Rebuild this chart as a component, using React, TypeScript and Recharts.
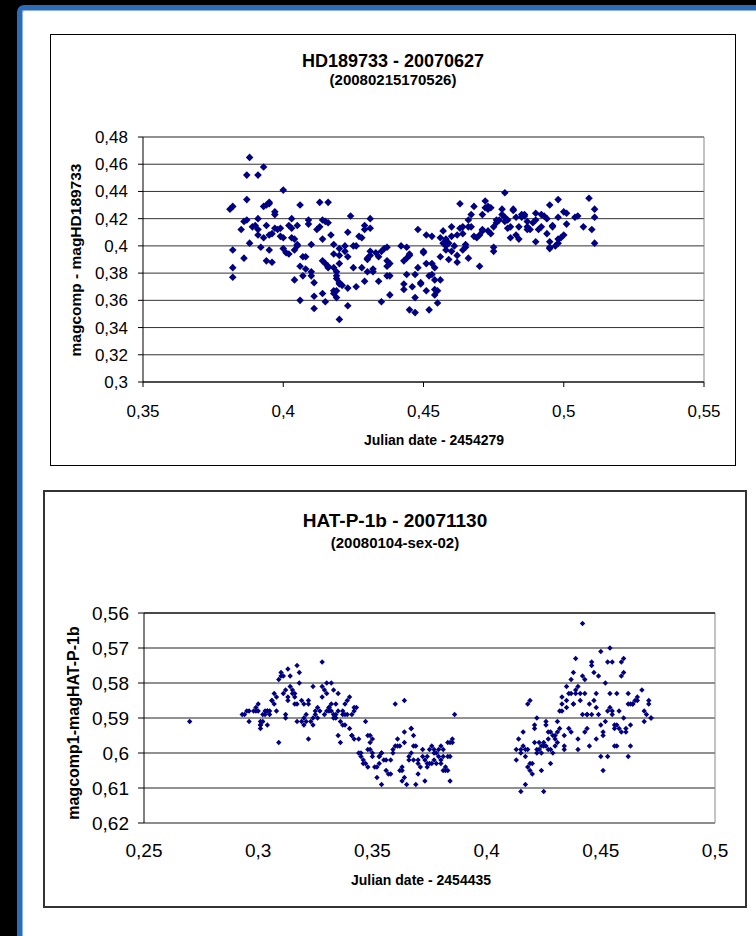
import React from "react";
import { ScatterChart, Scatter, XAxis, YAxis, CartesianGrid, ReferenceLine } from "recharts";

// chart 1: HD189733 light curve
const hdTitle = "HD189733 - 20070627";
const hdSubtitle = "(20080215170526)";
const hdXLabel = "Julian date - 2454279";
const hdYLabel = "magcomp - magHD189733";
const hdXTicks = [0.35, 0.4, 0.45, 0.5, 0.55];
const hdYTicks = [0.3, 0.32, 0.34, 0.36, 0.38, 0.4, 0.42, 0.44, 0.46, 0.48];

// [julian date offset, magnitude difference]
const hdPoints: [number, number][] = [
  [0.381, 0.427], [0.382, 0.429], [0.382, 0.397], [0.382, 0.384], [0.382, 0.377],
  [0.388, 0.465], [0.387, 0.452], [0.391, 0.452], [0.393, 0.458], [0.387, 0.434],
  [0.386, 0.391], [0.385, 0.412], [0.387, 0.419], [0.386, 0.418], [0.388, 0.402],
  [0.389, 0.414], [0.39, 0.415], [0.391, 0.412], [0.391, 0.42], [0.392, 0.399],
  [0.391, 0.408], [0.393, 0.406], [0.394, 0.415], [0.395, 0.397], [0.394, 0.389],
  [0.396, 0.388], [0.393, 0.429], [0.394, 0.43], [0.395, 0.431], [0.395, 0.432],
  [0.397, 0.423], [0.397, 0.425], [0.395, 0.408], [0.396, 0.409], [0.397, 0.413],
  [0.398, 0.412], [0.399, 0.413], [0.399, 0.407], [0.4, 0.406], [0.4, 0.441],
  [0.4, 0.398], [0.401, 0.395], [0.402, 0.394], [0.403, 0.42], [0.402, 0.415],
  [0.403, 0.413], [0.403, 0.406], [0.404, 0.405], [0.404, 0.397], [0.405, 0.4],
  [0.405, 0.415], [0.404, 0.375], [0.406, 0.36], [0.406, 0.43], [0.405, 0.401],
  [0.406, 0.385], [0.407, 0.378], [0.407, 0.392], [0.408, 0.392], [0.409, 0.419],
  [0.409, 0.416], [0.408, 0.383], [0.41, 0.378], [0.41, 0.401], [0.41, 0.381],
  [0.411, 0.373], [0.411, 0.363], [0.411, 0.354], [0.413, 0.432], [0.416, 0.432],
  [0.412, 0.412], [0.413, 0.414], [0.414, 0.405], [0.414, 0.419], [0.415, 0.418],
  [0.416, 0.417], [0.417, 0.408], [0.414, 0.389], [0.415, 0.387], [0.416, 0.385],
  [0.416, 0.384], [0.418, 0.401], [0.418, 0.394], [0.414, 0.365], [0.415, 0.359],
  [0.418, 0.367], [0.418, 0.365], [0.419, 0.367], [0.419, 0.362], [0.418, 0.384],
  [0.419, 0.378], [0.419, 0.376], [0.42, 0.373], [0.42, 0.372], [0.421, 0.371],
  [0.419, 0.381], [0.42, 0.387], [0.42, 0.393], [0.42, 0.398], [0.422, 0.4],
  [0.422, 0.396], [0.423, 0.392], [0.424, 0.422], [0.423, 0.41], [0.423, 0.369],
  [0.423, 0.356], [0.42, 0.346], [0.425, 0.4], [0.425, 0.384], [0.426, 0.37],
  [0.426, 0.4], [0.427, 0.407], [0.428, 0.406], [0.428, 0.384], [0.429, 0.374],
  [0.429, 0.415], [0.429, 0.412], [0.43, 0.381], [0.43, 0.391], [0.43, 0.39],
  [0.431, 0.396], [0.431, 0.393], [0.431, 0.42], [0.432, 0.383], [0.432, 0.381],
  [0.433, 0.395], [0.434, 0.374], [0.434, 0.392], [0.435, 0.359], [0.431, 0.413],
  [0.435, 0.396], [0.436, 0.398], [0.437, 0.389], [0.437, 0.399], [0.437, 0.385],
  [0.438, 0.378], [0.437, 0.378], [0.438, 0.364], [0.438, 0.387], [0.442, 0.4],
  [0.443, 0.368], [0.443, 0.372], [0.443, 0.389], [0.444, 0.391], [0.444, 0.399],
  [0.445, 0.393], [0.445, 0.394], [0.444, 0.379], [0.445, 0.353], [0.447, 0.362],
  [0.446, 0.37], [0.447, 0.351], [0.448, 0.412], [0.447, 0.379], [0.448, 0.384],
  [0.449, 0.373], [0.449, 0.372], [0.45, 0.395], [0.45, 0.396], [0.451, 0.408],
  [0.451, 0.367], [0.451, 0.387], [0.452, 0.378], [0.452, 0.353], [0.453, 0.387],
  [0.453, 0.407], [0.453, 0.379], [0.454, 0.375], [0.454, 0.364], [0.454, 0.384],
  [0.454, 0.368], [0.455, 0.367], [0.455, 0.358], [0.456, 0.406], [0.456, 0.392],
  [0.456, 0.375], [0.457, 0.411], [0.457, 0.402], [0.458, 0.4], [0.458, 0.405],
  [0.458, 0.397], [0.459, 0.39], [0.459, 0.402], [0.46, 0.396], [0.46, 0.407],
  [0.46, 0.414], [0.461, 0.4], [0.462, 0.408], [0.462, 0.393], [0.462, 0.388],
  [0.463, 0.431], [0.463, 0.413], [0.464, 0.409], [0.464, 0.397], [0.464, 0.414],
  [0.465, 0.399], [0.465, 0.401], [0.466, 0.414], [0.466, 0.419], [0.466, 0.391],
  [0.467, 0.423], [0.467, 0.414], [0.468, 0.429], [0.468, 0.407], [0.469, 0.406],
  [0.47, 0.385], [0.47, 0.408], [0.471, 0.412], [0.471, 0.411], [0.471, 0.423],
  [0.472, 0.428], [0.472, 0.433], [0.473, 0.411], [0.473, 0.427], [0.473, 0.429],
  [0.474, 0.428], [0.474, 0.409], [0.475, 0.399], [0.475, 0.396], [0.475, 0.414],
  [0.476, 0.417], [0.476, 0.419], [0.477, 0.419], [0.478, 0.423], [0.478, 0.427],
  [0.479, 0.439], [0.479, 0.421], [0.479, 0.418], [0.48, 0.419], [0.48, 0.413],
  [0.481, 0.406], [0.481, 0.414], [0.482, 0.426], [0.482, 0.427], [0.483, 0.421],
  [0.483, 0.408], [0.484, 0.405], [0.484, 0.414], [0.485, 0.421], [0.485, 0.423],
  [0.486, 0.423], [0.486, 0.422], [0.487, 0.418], [0.487, 0.412], [0.487, 0.414],
  [0.488, 0.412], [0.489, 0.417], [0.49, 0.424], [0.49, 0.403], [0.49, 0.419],
  [0.491, 0.412], [0.492, 0.414], [0.492, 0.423], [0.493, 0.422], [0.494, 0.409],
  [0.494, 0.42], [0.495, 0.403], [0.495, 0.43], [0.495, 0.398], [0.495, 0.399],
  [0.496, 0.414], [0.496, 0.415], [0.497, 0.4], [0.498, 0.402], [0.498, 0.434],
  [0.498, 0.421], [0.498, 0.405], [0.499, 0.406], [0.5, 0.408], [0.5, 0.425],
  [0.501, 0.424], [0.501, 0.416], [0.504, 0.421], [0.505, 0.422], [0.507, 0.414],
  [0.509, 0.435], [0.51, 0.412], [0.511, 0.427], [0.511, 0.421], [0.511, 0.402],
];

// chart 2: HAT-P-1b light curve
const hatTitle = "HAT-P-1b - 20071130";
const hatSubtitle = "(20080104-sex-02)";
const hatXLabel = "Julian date - 2454435";
const hatYLabel = "magcomp1-magHAT-P-1b";
const hatXTicks = [0.25, 0.3, 0.35, 0.4, 0.45, 0.5];
const hatYTicks = [0.56, 0.57, 0.58, 0.59, 0.6, 0.61, 0.62];

const hatPoints: [number, number][] = [
  [0.27, 0.591],
  [0.293, 0.589], [0.294, 0.589], [0.295, 0.588], [0.296, 0.591], [0.296, 0.588],
  [0.298, 0.588], [0.299, 0.588], [0.299, 0.587], [0.3, 0.586], [0.3, 0.588],
  [0.301, 0.591], [0.301, 0.592], [0.301, 0.593], [0.301, 0.592], [0.302, 0.591],
  [0.302, 0.589], [0.303, 0.588], [0.303, 0.589], [0.304, 0.588], [0.304, 0.588],
  [0.304, 0.592], [0.305, 0.589], [0.305, 0.588], [0.306, 0.585], [0.306, 0.585],
  [0.307, 0.583], [0.307, 0.586], [0.308, 0.588], [0.308, 0.584], [0.309, 0.597],
  [0.309, 0.579], [0.31, 0.577], [0.31, 0.578], [0.311, 0.578], [0.311, 0.583],
  [0.312, 0.589], [0.312, 0.59], [0.312, 0.582], [0.313, 0.585], [0.313, 0.584],
  [0.313, 0.576], [0.314, 0.578], [0.314, 0.581], [0.315, 0.583], [0.315, 0.582],
  [0.316, 0.583], [0.316, 0.584], [0.316, 0.586], [0.317, 0.575], [0.317, 0.591],
  [0.317, 0.586], [0.318, 0.58], [0.318, 0.577], [0.319, 0.591], [0.319, 0.585],
  [0.32, 0.586], [0.32, 0.592], [0.32, 0.59], [0.321, 0.591], [0.321, 0.589],
  [0.322, 0.585], [0.322, 0.596], [0.322, 0.586], [0.323, 0.591], [0.324, 0.592],
  [0.324, 0.59], [0.324, 0.581], [0.325, 0.589], [0.325, 0.588], [0.326, 0.587],
  [0.326, 0.59], [0.327, 0.588], [0.328, 0.584], [0.328, 0.581], [0.328, 0.574],
  [0.329, 0.582], [0.329, 0.589], [0.33, 0.583], [0.33, 0.58], [0.33, 0.588],
  [0.331, 0.587], [0.331, 0.588], [0.331, 0.587], [0.332, 0.586], [0.332, 0.588],
  [0.332, 0.58], [0.333, 0.582], [0.333, 0.589], [0.333, 0.59], [0.334, 0.586],
  [0.334, 0.59], [0.334, 0.589], [0.335, 0.583], [0.335, 0.588], [0.335, 0.595],
  [0.336, 0.597], [0.336, 0.591], [0.337, 0.589], [0.337, 0.592], [0.337, 0.588],
  [0.338, 0.589], [0.338, 0.586], [0.338, 0.592], [0.339, 0.585], [0.339, 0.589],
  [0.34, 0.584], [0.34, 0.593], [0.341, 0.595], [0.341, 0.589], [0.341, 0.595],
  [0.342, 0.588], [0.342, 0.596], [0.342, 0.587], [0.343, 0.587], [0.344, 0.6],
  [0.344, 0.596], [0.345, 0.6], [0.345, 0.601], [0.346, 0.602], [0.346, 0.603],
  [0.347, 0.591], [0.347, 0.603], [0.348, 0.595], [0.348, 0.599], [0.348, 0.604],
  [0.349, 0.595], [0.349, 0.597], [0.349, 0.599], [0.35, 0.601], [0.35, 0.596],
  [0.35, 0.6], [0.351, 0.604], [0.352, 0.607], [0.352, 0.604], [0.353, 0.601],
  [0.353, 0.603], [0.353, 0.601], [0.354, 0.609], [0.354, 0.6], [0.354, 0.6],
  [0.355, 0.602], [0.356, 0.602], [0.356, 0.605], [0.357, 0.606], [0.358, 0.606],
  [0.358, 0.602], [0.359, 0.599], [0.359, 0.6], [0.36, 0.586], [0.36, 0.598],
  [0.361, 0.598], [0.361, 0.596], [0.362, 0.605], [0.362, 0.598], [0.363, 0.604],
  [0.363, 0.608], [0.363, 0.605], [0.364, 0.594], [0.364, 0.585], [0.364, 0.597],
  [0.364, 0.607], [0.365, 0.609], [0.366, 0.601], [0.366, 0.602], [0.367, 0.593],
  [0.367, 0.6], [0.367, 0.593], [0.368, 0.598], [0.368, 0.595], [0.368, 0.602],
  [0.369, 0.609], [0.369, 0.598], [0.37, 0.606], [0.37, 0.602], [0.37, 0.603],
  [0.371, 0.604], [0.372, 0.601], [0.372, 0.599], [0.373, 0.608], [0.373, 0.602],
  [0.374, 0.603], [0.374, 0.604], [0.374, 0.601], [0.375, 0.603], [0.375, 0.599],
  [0.376, 0.598], [0.376, 0.603], [0.377, 0.6], [0.377, 0.599], [0.377, 0.602],
  [0.378, 0.603], [0.378, 0.6], [0.379, 0.601], [0.379, 0.599], [0.38, 0.602],
  [0.38, 0.598], [0.38, 0.603], [0.381, 0.599], [0.381, 0.605], [0.381, 0.601],
  [0.382, 0.605], [0.382, 0.604], [0.383, 0.605], [0.383, 0.597], [0.383, 0.601],
  [0.384, 0.597], [0.384, 0.608], [0.384, 0.601], [0.385, 0.597], [0.385, 0.596],
  [0.386, 0.589],
  [0.413, 0.599], [0.413, 0.602], [0.414, 0.596], [0.415, 0.6], [0.415, 0.611],
  [0.415, 0.599], [0.416, 0.598], [0.416, 0.594], [0.417, 0.599], [0.417, 0.609],
  [0.417, 0.601], [0.418, 0.599], [0.418, 0.586], [0.418, 0.604], [0.419, 0.585],
  [0.419, 0.603], [0.419, 0.605], [0.42, 0.603], [0.42, 0.606], [0.421, 0.593],
  [0.421, 0.597], [0.421, 0.592], [0.422, 0.59], [0.422, 0.6], [0.422, 0.599],
  [0.423, 0.597], [0.423, 0.599], [0.424, 0.598], [0.424, 0.6], [0.424, 0.605],
  [0.425, 0.598], [0.425, 0.597], [0.425, 0.611], [0.426, 0.598], [0.426, 0.591],
  [0.426, 0.592], [0.427, 0.596], [0.427, 0.599], [0.427, 0.594], [0.428, 0.603],
  [0.428, 0.594], [0.428, 0.599], [0.429, 0.6], [0.429, 0.595], [0.43, 0.598],
  [0.43, 0.595], [0.43, 0.596], [0.431, 0.591], [0.431, 0.597], [0.431, 0.594],
  [0.432, 0.593], [0.432, 0.588], [0.433, 0.584], [0.433, 0.586], [0.433, 0.588],
  [0.434, 0.599], [0.434, 0.595], [0.434, 0.598], [0.435, 0.587], [0.435, 0.585],
  [0.435, 0.581], [0.436, 0.583], [0.436, 0.593], [0.437, 0.594], [0.437, 0.583],
  [0.437, 0.579], [0.438, 0.586], [0.438, 0.577], [0.438, 0.586], [0.439, 0.582],
  [0.439, 0.583], [0.439, 0.573], [0.44, 0.581], [0.44, 0.596], [0.44, 0.599],
  [0.441, 0.583], [0.441, 0.585], [0.442, 0.563], [0.442, 0.578], [0.442, 0.589],
  [0.443, 0.583], [0.443, 0.579], [0.443, 0.594], [0.444, 0.589], [0.444, 0.593],
  [0.444, 0.589], [0.445, 0.586], [0.445, 0.598], [0.446, 0.589], [0.446, 0.574],
  [0.446, 0.575], [0.447, 0.585], [0.447, 0.577], [0.448, 0.583], [0.448, 0.587],
  [0.448, 0.596], [0.449, 0.578], [0.449, 0.589], [0.45, 0.571], [0.45, 0.592],
  [0.45, 0.601], [0.451, 0.594], [0.451, 0.595], [0.451, 0.605], [0.452, 0.58],
  [0.452, 0.591], [0.453, 0.601], [0.453, 0.588], [0.453, 0.574], [0.454, 0.587],
  [0.454, 0.583], [0.454, 0.57], [0.455, 0.588], [0.455, 0.574], [0.455, 0.589],
  [0.456, 0.593], [0.456, 0.598], [0.456, 0.592], [0.457, 0.598], [0.457, 0.583],
  [0.457, 0.592], [0.458, 0.593], [0.458, 0.588], [0.459, 0.594], [0.459, 0.578],
  [0.459, 0.574], [0.46, 0.573], [0.46, 0.577], [0.46, 0.59], [0.461, 0.594],
  [0.461, 0.593], [0.462, 0.601], [0.462, 0.586], [0.462, 0.583], [0.463, 0.592],
  [0.463, 0.598], [0.463, 0.586], [0.464, 0.586], [0.464, 0.586], [0.465, 0.585],
  [0.466, 0.585], [0.466, 0.584], [0.468, 0.582], [0.469, 0.591], [0.469, 0.588],
  [0.47, 0.589], [0.471, 0.585], [0.471, 0.586], [0.472, 0.59], [0.472, 0.59],
];

const NAVY = "#000080";
const FONT = "'Liberation Sans', Arial, sans-serif";

const comma = (v: number) => String(v).replace(".", ",");
const toRows = (pts: [number, number][]) => pts.map(([x, y]) => ({ x, y }));

const diamond = (r: number) => (p: any) => {
  const { cx, cy } = p;
  if (cx == null || cy == null) return <g />;
  return <path d={`M${cx},${cy - r}L${cx + r},${cy}L${cx},${cy + r}L${cx - r},${cy}Z`} fill={NAVY} />;
};

const HdChart = () => (
  <ScatterChart width={756} height={470} margin={{ top: 137, right: 52, bottom: 58, left: 83 }}>
    <CartesianGrid vertical={false} stroke="#333" />
    <XAxis
      type="number"
      dataKey="x"
      domain={[0.35, 0.55]}
      ticks={hdXTicks}
      interval={0}
      tickFormatter={comma}
      height={30}
      tickSize={5}
      tickMargin={18}
      stroke="#000"
      tick={{ fill: "#000", fontSize: 17, fontFamily: FONT }}
    />
    <YAxis
      type="number"
      dataKey="y"
      domain={[0.3, 0.48]}
      ticks={hdYTicks}
      interval={0}
      tickFormatter={comma}
      width={60}
      tickSize={5}
      tickMargin={10}
      stroke="#000"
      tick={{ fill: "#000", fontSize: 17, fontFamily: FONT }}
    />
    <ReferenceLine x={0.55} stroke="#888" />
    <ReferenceLine y={0.48} stroke="#888" />
    <Scatter data={toRows(hdPoints)} shape={diamond(3.8)} isAnimationActive={false} />
  </ScatterChart>
);

const HatChart = () => (
  <ScatterChart width={756} height={466} margin={{ top: 143, right: 41, bottom: 83, left: 84 }}>
    <CartesianGrid vertical={false} stroke="#222" xAxisId="b" />
    <XAxis
      xAxisId="b"
      orientation="bottom"
      type="number"
      dataKey="x"
      domain={[0.25, 0.5]}
      ticks={hatXTicks}
      interval={0}
      tickFormatter={comma}
      height={30}
      axisLine={false}
      tickLine={false}
      tickSize={0}
      tickMargin={21}
      tick={{ fill: "#000", fontSize: 19, fontFamily: FONT }}
    />
    <XAxis
      xAxisId="t"
      orientation="top"
      type="number"
      dataKey="x"
      domain={[0.25, 0.5]}
      ticks={hatXTicks}
      interval={0}
      tickFormatter={() => ""}
      height={10}
      mirror
      tickSize={6}
      stroke="#000"
    />
    <YAxis
      reversed
      type="number"
      dataKey="y"
      domain={[0.56, 0.62]}
      ticks={hatYTicks}
      interval={0}
      tickFormatter={comma}
      width={60}
      tickSize={6}
      tickMargin={9}
      stroke="#000"
      tick={{ fill: "#000", fontSize: 19, fontFamily: FONT }}
    />
    <ReferenceLine xAxisId="b" x={0.5} stroke="#888" />
    <ReferenceLine xAxisId="b" y={0.62} stroke="#888" />
    <Scatter xAxisId="b" data={toRows(hatPoints)} shape={diamond(2.7)} isAnimationActive={false} />
  </ScatterChart>
);

const bold = { fontFamily: FONT, fontWeight: 700, fill: "#000" } as const;

export default function App() {
  return (
    <div style={{ position: "relative", width: 756, height: 936, overflow: "hidden", background: "#000" }}>
      <style>{`body{margin:0}`}</style>
      {/* blue page frame */}
      <div
        style={{
          position: "absolute",
          left: 17,
          top: 5,
          width: 800,
          height: 1000,
          boxSizing: "border-box",
          border: "5px solid #2d6cb9",
          borderRadius: 7,
          background: "#fff",
          boxShadow: "inset 1px 1px 0 #8db2de",
        }}
      />
      {/* chart panels */}
      <div style={{ position: "absolute", left: 50, top: 34, width: 686, height: 432, boxSizing: "border-box", border: "1px solid #000" }} />
      <div style={{ position: "absolute", left: 43, top: 490, width: 704, height: 418, boxSizing: "border-box", border: "2px solid #333" }} />

      <div style={{ position: "absolute", left: 0, top: 0 }}>
        <HdChart />
      </div>
      <div style={{ position: "absolute", left: 0, top: 470 }}>
        <HatChart />
      </div>

      <svg width={756} height={936} style={{ position: "absolute", left: 0, top: 0, pointerEvents: "none" }}>
        <text x={393} y={67} textAnchor="middle" fontSize={18} {...bold}>{hdTitle}</text>
        <text x={393} y={85} textAnchor="middle" fontSize={15} {...bold}>{hdSubtitle}</text>
        <text x={434} y={445} textAnchor="middle" fontSize={14} {...bold}>{hdXLabel}</text>
        <text transform="translate(76,260) rotate(-90)" textAnchor="middle" dy="0.35em" fontSize={15.5} {...bold}>{hdYLabel}</text>

        <text x={395} y={527} textAnchor="middle" fontSize={19} {...bold}>{hatTitle}</text>
        <text x={395} y={548} textAnchor="middle" fontSize={15} {...bold}>{hatSubtitle}</text>
        <text x={421} y={885} textAnchor="middle" fontSize={14} {...bold}>{hatXLabel}</text>
        <text transform="translate(73,723) rotate(-90)" textAnchor="middle" dy="0.35em" fontSize={16} {...bold}>{hatYLabel}</text>
      </svg>
    </div>
  );
}
